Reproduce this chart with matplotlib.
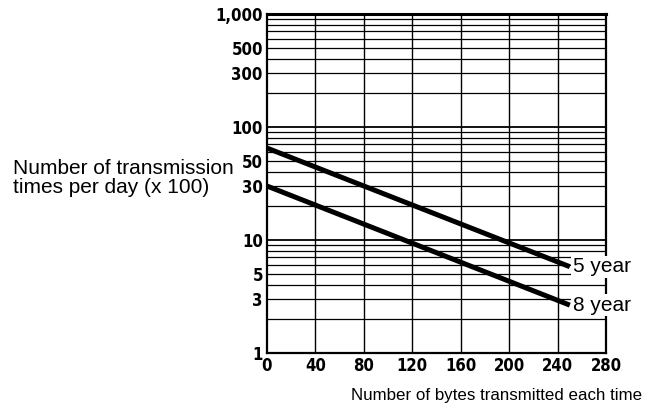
import matplotlib
matplotlib.use("Agg")
import matplotlib.pyplot as plt
from matplotlib.ticker import FixedLocator, LogLocator, NullFormatter

# -------------------------------------------------
# Data
# -------------------------------------------------
bytes_x = [0, 250]
five_year = [65, 5.8]
eight_year = [30, 2.65]
series_names = ["5 year", "8 year"]

x_ticks = [0, 40, 80, 120, 160, 200, 240, 280]
y_ticks = [1, 3, 5, 10, 30, 50, 100, 300, 500, 1000]
y_tick_labels = ["1", "3", "5", "10", "30", "50", "100", "300", "500", "1,000"]

# -------------------------------------------------
# Figure
# -------------------------------------------------
fig = plt.figure(figsize=(6.46, 4.09), dpi=100)
ax = fig.add_axes([0.4133, 0.137, 0.525, 0.829])

ax.set_yscale("log")
ax.set_xlim(0, 280)
ax.set_ylim(1, 1000)

tick_kw = dict(family="DejaVu Sans", fontstretch="condensed", fontsize=12, weight="bold")
ax.xaxis.set_major_locator(FixedLocator(x_ticks))
ax.set_xticklabels([str(t) for t in x_ticks], **tick_kw)
ax.yaxis.set_major_locator(FixedLocator(y_ticks))
ax.set_yticklabels(y_tick_labels, **tick_kw)
ax.yaxis.set_minor_locator(LogLocator(base=10, subs=range(2, 10)))
ax.yaxis.set_minor_formatter(NullFormatter())
ax.tick_params(which="both", length=0, pad=3)

# grid: every 40 bytes, and every log step
for xv in x_ticks[1:-1]:
    ax.axvline(xv, color="black", lw=1.0, zorder=1)
for dec in [1, 10, 100]:
    for k in range(1, 10):
        v = dec * k
        if 1 < v < 1000:
            ax.axhline(v, color="black", lw=1.3 if k == 1 else 0.9, zorder=1)

for side in ["left", "right", "bottom"]:
    ax.spines[side].set_linewidth(1.6)
ax.spines["top"].set_linewidth(2.2)

ax.plot(bytes_x, five_year, color="black", lw=3.6, solid_capstyle="butt", zorder=3)
ax.plot(bytes_x, eight_year, color="black", lw=3.6, solid_capstyle="butt", zorder=3)

for name, vals in zip(series_names, [five_year, eight_year]):
    ax.text(bytes_x[-1] + 2.5, vals[-1], name, fontsize=15, family="Liberation Sans",
            va="center", ha="left", zorder=5, clip_on=False,
            bbox=dict(facecolor="white", edgecolor="none", pad=1.0))

fig.text(0.02, 0.565, "Number of transmission\ntimes per day (x 100)", fontsize=15,
         family="Liberation Sans", ha="left", va="center", linespacing=1.0)
fig.text(0.768, 0.034, "Number of bytes transmitted each time", fontsize=12.2,
         family="Liberation Sans", ha="center", va="center")

fig.savefig("out.png", dpi=100)
